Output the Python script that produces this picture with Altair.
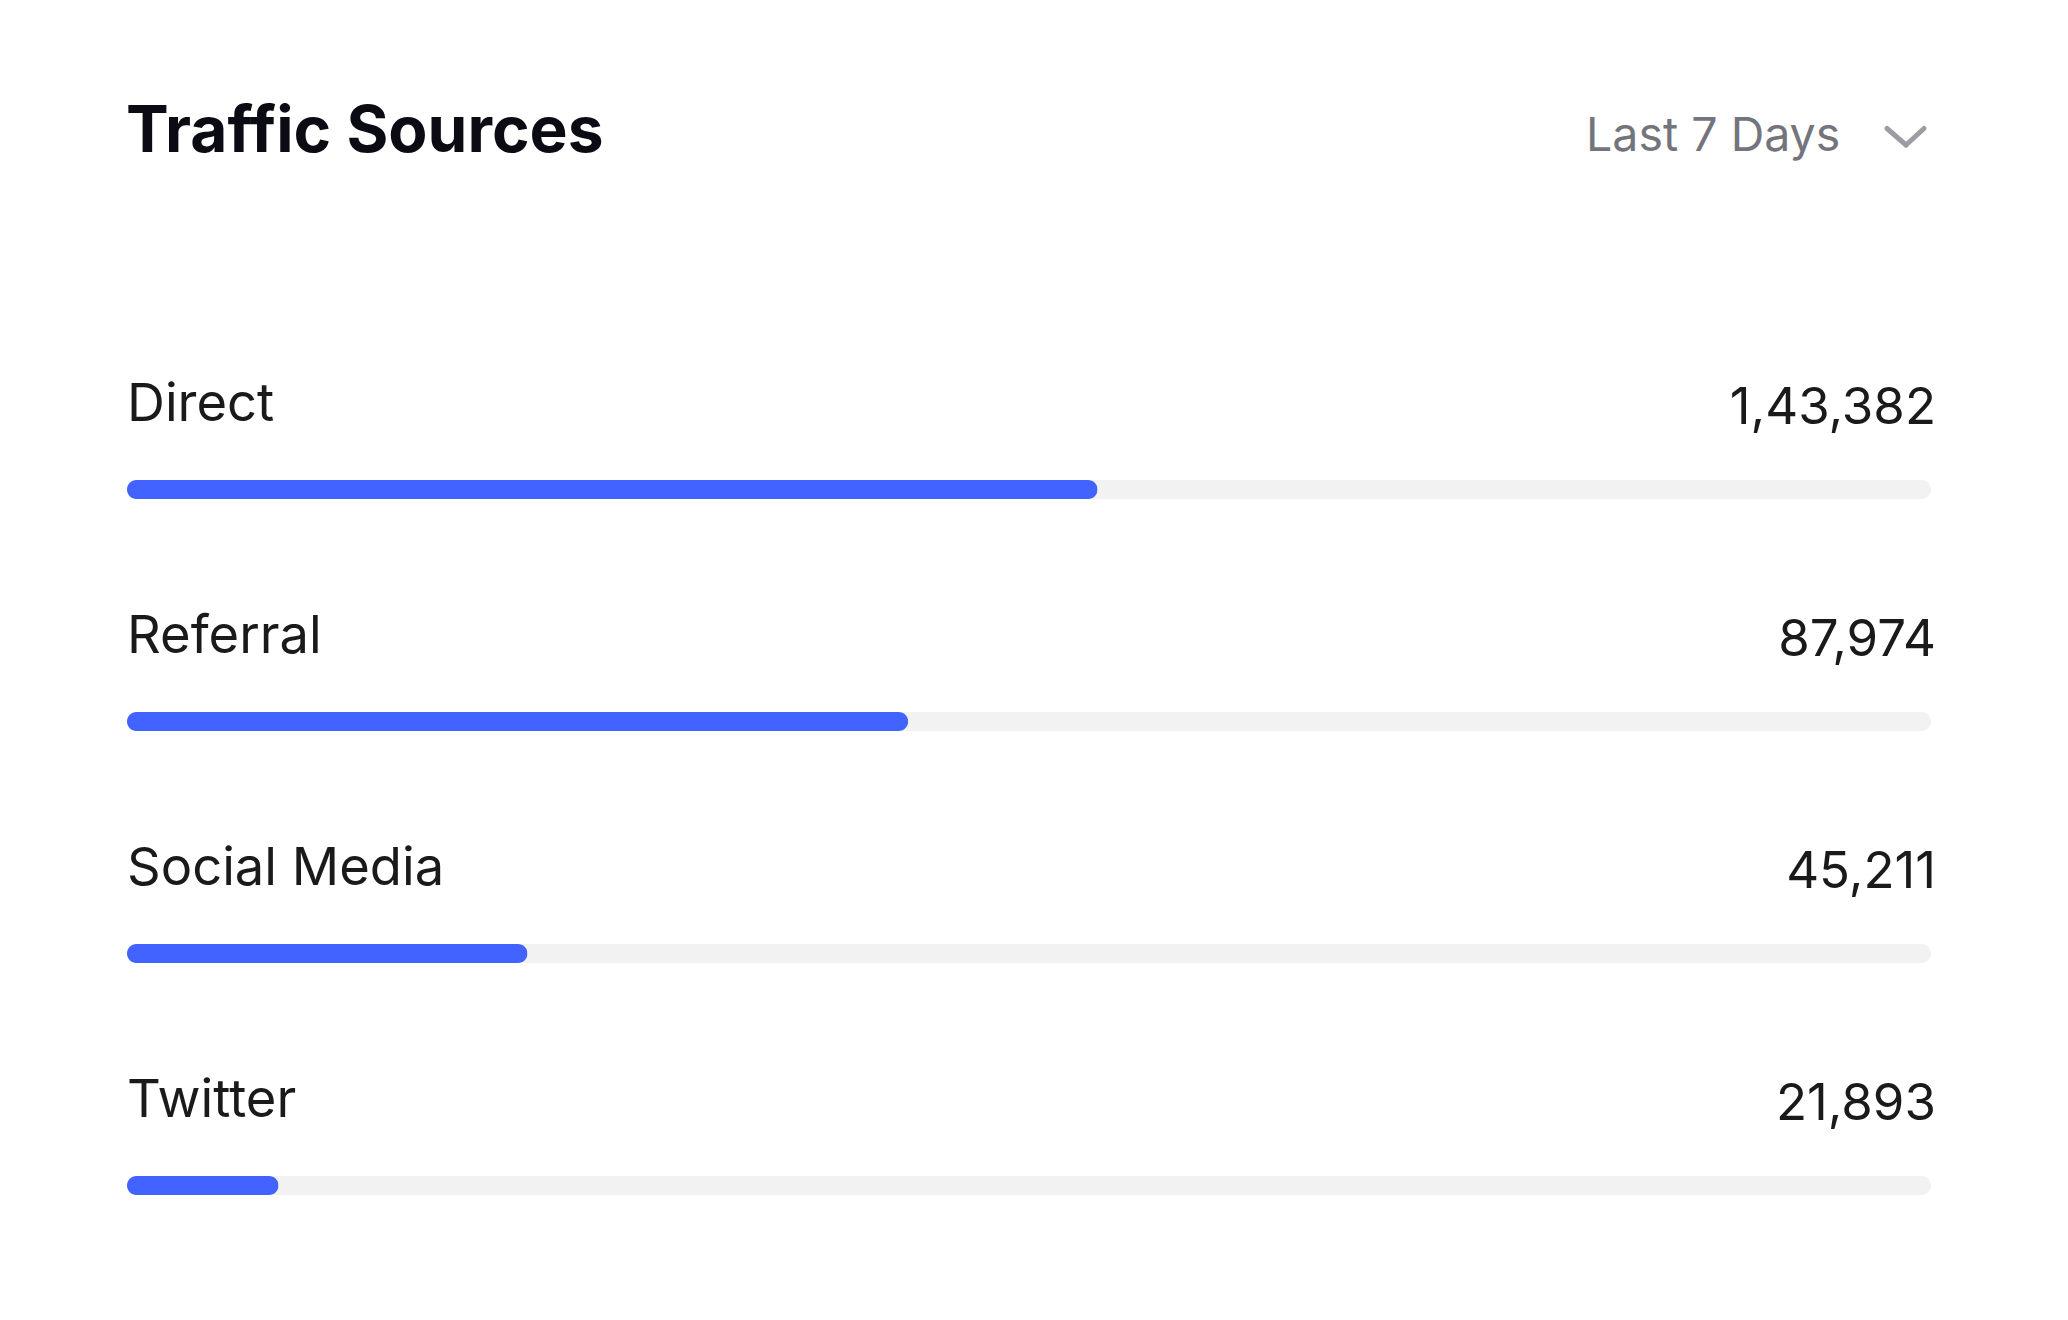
import altair as alt
import pandas as pd

# ---- data ----
sources = ["Direct", "Referral", "Social Media", "Twitter"]
visits = [143382, 87974, 45211, 21893]
visit_labels = ["1,43,382", "87,974", "45,211", "21,893"]
share_pct = [53.8, 43.3, 22.2, 8.4]  # bar fill, percent of track
title_text = "Traffic Sources"
period_text = "Last 7 Days"

df = pd.DataFrame({
    "source": sources,
    "visits": visits,
    "label": visit_labels,
    "pct": share_pct,
    "full": [100] * len(sources),
})

FONT = "Inter"
W, H = 1804, 928

base = alt.Chart(df)
y_enc = alt.Y("source:N", sort=sources, axis=None,
              scale=alt.Scale(paddingInner=0, paddingOuter=0))
x_scale = alt.Scale(domain=[0, 100], nice=False, zero=True)

track = base.mark_bar(size=19, cornerRadius=9.5, color="#f2f2f2").encode(
    x=alt.X("full:Q", scale=x_scale, axis=None),
    y=y_enc,
)
fill = base.mark_bar(size=19, cornerRadius=9.5, color="#4263ff").encode(
    x=alt.X("pct:Q", scale=x_scale, axis=None),
    y=y_enc,
    tooltip=["source", "visits"],
)
names = base.mark_text(align="left", baseline="alphabetic", dy=-69,
                       fontSize=52.5, font=FONT, color="#1a1a1a").encode(
    x=alt.value(0), y=y_enc, text="source:N",
)
values = base.mark_text(align="right", baseline="alphabetic", dy=-66,
                        fontSize=51, font=FONT, color="#1a1a1a").encode(
    x=alt.value(W + 5), y=y_enc, text="label:N",
)

hdr = alt.Chart(pd.DataFrame({"t": [title_text], "p": [period_text]}))
title = hdr.mark_text(align="left", baseline="alphabetic", fontSize=64,
                      fontWeight="bold", font=FONT, color="#0b0b14").encode(
    x=alt.value(-1), y=alt.value(-221.8), text="t:N",
)
period = hdr.mark_text(align="left", baseline="alphabetic", fontSize=46.5,
                       font=FONT, color="#74747c").encode(
    x=alt.value(1459), y=alt.value(-222.5), text="p:N",
)
chev1 = hdr.mark_rule(strokeWidth=5, strokeCap="round", color="#9c9ca4").encode(
    x=alt.value(1760), x2=alt.value(1779), y=alt.value(-245), y2=alt.value(-228.5),
)
chev2 = hdr.mark_rule(strokeWidth=5, strokeCap="round", color="#9c9ca4").encode(
    x=alt.value(1779), x2=alt.value(1797), y=alt.value(-228.5), y2=alt.value(-245),
)

chart = alt.layer(track, fill, names, values, title, period, chev1, chev2).properties(
    width=W, height=H,
    autosize=alt.AutoSizeParams(type="none"),
    padding={"left": 127, "top": 373.5, "right": 137, "bottom": 18.5},
    background="white",
).configure_view(stroke=None)

chart.save("out.html", embed_options={"renderer": "svg", "actions": False})
